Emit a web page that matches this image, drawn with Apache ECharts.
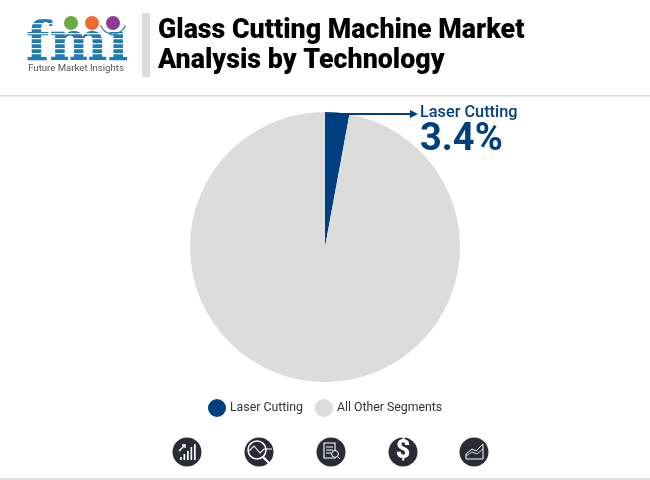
<!DOCTYPE html>
<html>
<head>
<meta charset="utf-8">
<style>
  html, body { margin: 0; padding: 0; background: #fff; }
  #main { width: 650px; height: 480px; }
</style>
<script src="https://cdn.jsdelivr.net/npm/echarts@6/dist/echarts.min.js"></script>
</head>
<body>
<div id="main"></div>
<script>
const categories = ['Laser Cutting', 'All Other Segments']
// slice sizes as drawn in the picture: the wedge measures about 2.9%, the callout says 3.4%
const shares = [2.9, 97.1]
const colors = ['#003f7f', '#dcdcdc']
const titleLines = ['Glass Cutting Machine Market', 'Analysis by Technology']
const calloutName = 'Laser Cutting'
const calloutValue = '3.4%'
const logoName = 'Future Market Insights'

const iconInk = '#2b2b38'
const logoBlue = '#1f7ab8'

// white bands across the fmi letters
const logoStripes = [23, 28, 33, 38, 43, 48, 53].map((y) => ({
  type: 'rect',
  shape: { x: 26, y: y, width: 104, height: 1.3 },
  style: { fill: '#fff' },
  z: 12
}))

// each footer icon: dark disc plus a few white strokes
const disc = (cx) => ({
  type: 'circle',
  shape: { cx: cx, cy: 452, r: 14.5 },
  style: { fill: iconInk }
})
const stroke = (points, width) => ({
  type: 'polyline',
  shape: { points: points },
  style: { stroke: '#fff', fill: 'none', lineWidth: width || 1.2 },
  z: 12
})
const bar = (x, y, h) => ({
  type: 'rect',
  shape: { x: x, y: y, width: 1.7, height: h },
  style: { fill: '#fff' },
  z: 12
})

const footerIcons = [
  disc(187), disc(259), disc(331), disc(403), disc(474),
  bar(180, 457, 3), bar(183.5, 454, 6), bar(187, 451, 9), bar(190.5, 447, 13), bar(194, 444, 16),
  stroke([[179, 451], [185, 445]], 1.6),
  stroke([[182, 445], [185, 445], [185, 448]], 1.4),
  { type: 'circle', shape: { cx: 257, cy: 450, r: 9 }, style: { fill: 'none', stroke: '#fff', lineWidth: 1.5 }, z: 12 },
  stroke([[249, 451], [254, 446], [260, 453], [264, 449], [272, 449]], 1.1),
  stroke([[263, 457], [270, 464]], 2.4),
  { type: 'rect', shape: { x: 324, y: 443, width: 11, height: 15 }, style: { fill: 'none', stroke: '#fff', lineWidth: 1.1 }, z: 12 },
  stroke([[326, 447], [333, 447]], 1),
  stroke([[326, 450], [333, 450]], 1),
  stroke([[326, 453], [331, 453]], 1),
  { type: 'circle', shape: { cx: 335, cy: 454, r: 3.4 }, style: { fill: iconInk, stroke: '#fff', lineWidth: 1 }, z: 13 },
  stroke([[337.5, 456.5], [340, 459]], 1),
  {
    type: 'text',
    style: { x: 403, y: 452, text: '$', fill: '#fff', font: '900 25px Roboto', align: 'center', verticalAlign: 'middle' },
    z: 12
  },
  stroke([[466, 454], [472, 449], [476, 451], [483, 444], [483, 459], [466, 459], [466, 454]], 1),
  stroke([[466, 456], [472, 452], [477, 454], [483, 449]], 0.8)
]

const myChart = echarts.init(document.getElementById('main'))

myChart.setOption({
  animation: false,
  backgroundColor: '#fff',
  legend: {
    data: categories,
    left: 203,
    top: 394,
    icon: 'circle',
    itemWidth: 18,
    itemHeight: 18,
    itemGap: 12,
    selectedMode: false,
    textStyle: { fontFamily: 'Roboto', fontSize: 12.3, color: '#333', padding: [0, 0, 0, -1] }
  },
  series: [{
    type: 'pie',
    center: [325, 247],
    radius: [0, 135],
    startAngle: 90,
    clockwise: true,
    silent: true,
    label: { show: false },
    labelLine: { show: false },
    data: categories.map((name, i) => ({
      name: name,
      value: shares[i],
      itemStyle: { color: colors[i] }
    }))
  }],
  graphic: [
    // header
    { type: 'rect', shape: { x: 142, y: 13, width: 8, height: 64 }, style: { fill: '#dcdcdc' } },
    { type: 'rect', shape: { x: 0, y: 95, width: 650, height: 1.5 }, style: { fill: '#dcdcdc' } },
    { type: 'rect', shape: { x: 0, y: 478, width: 650, height: 2 }, style: { fill: '#e4e4e4' } },
    {
      type: 'text',
      style: { x: 158, y: 31, text: titleLines[0], fill: '#000', font: '900 26.8px Roboto', verticalAlign: 'middle' }
    },
    {
      type: 'text',
      style: { x: 158, y: 61, text: titleLines[1], fill: '#000', font: '900 26.8px Roboto', verticalAlign: 'middle' }
    },
    // logo
    {
      type: 'text',
      style: { x: 77, y: 46, text: 'fmi', fill: logoBlue, font: 'bold 55px "DejaVu Serif"', align: 'center', verticalAlign: 'middle' },
      z: 11
    },
    ...logoStripes,
    // hide the i dot, the arc under the discs takes its place
    { type: 'rect', shape: { x: 106, y: 16, width: 24, height: 14 }, style: { fill: '#fff' }, z: 12 },
    { type: 'circle', shape: { cx: 71, cy: 23, r: 7 }, style: { fill: '#6aa842' }, z: 13 },
    { type: 'circle', shape: { cx: 92, cy: 23, r: 7 }, style: { fill: '#ef6a2e' }, z: 13 },
    { type: 'circle', shape: { cx: 113, cy: 23, r: 7 }, style: { fill: '#8e3b96' }, z: 13 },
    {
      type: 'arc',
      shape: { cx: 113, cy: 21, r: 13, startAngle: 0.35, endAngle: 2.8, clockwise: true },
      style: { stroke: logoBlue, fill: 'none', lineWidth: 1.2 },
      z: 13
    },
    {
      type: 'text',
      style: { x: 76, y: 68.5, text: logoName, fill: '#555', font: '9.6px Roboto', align: 'center', verticalAlign: 'middle' }
    },
    // callout
    { type: 'line', shape: { x1: 341, y1: 114, x2: 412, y2: 114 }, style: { stroke: '#003f7f', lineWidth: 2 }, z: 12 },
    { type: 'polygon', shape: { points: [[410, 110], [418, 114], [410, 118]] }, style: { fill: '#003f7f' }, z: 12 },
    {
      type: 'text',
      style: { x: 420, y: 113, text: calloutName, fill: '#003f7f', font: '500 16.3px Roboto', verticalAlign: 'middle' }
    },
    {
      type: 'text',
      style: { x: 420, y: 140, text: calloutValue, fill: '#003f7f', font: 'bold 38px Roboto', verticalAlign: 'middle' }
    },
    ...footerIcons
  ]
})
</script>
</body>
</html>
